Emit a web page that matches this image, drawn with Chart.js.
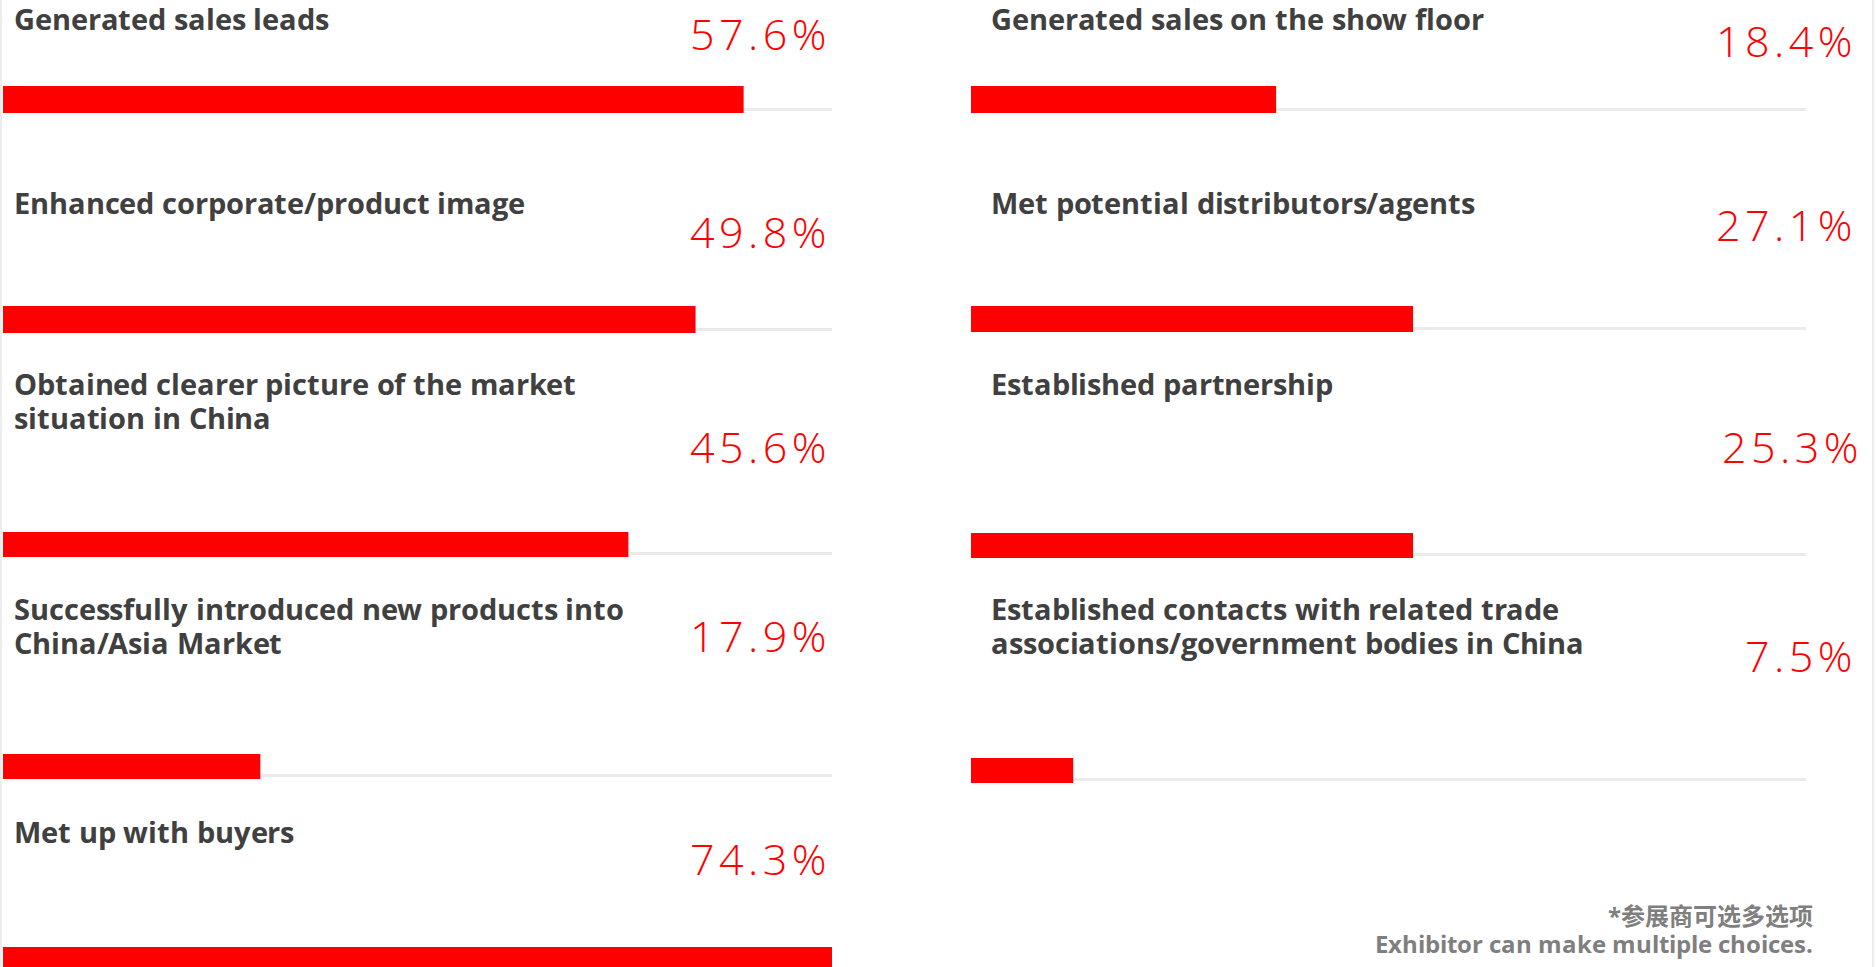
<!DOCTYPE html>
<html>
<head>
<meta charset="utf-8">
<title>Exhibitor results</title>
<script src="https://cdn.jsdelivr.net/npm/chart.js@4.4.1/dist/chart.umd.min.js"></script>
<style>
  /* same glyphs, tighter line metrics so stacked lines keep the source spacing */
  @font-face {
    font-family: "LabelSans";
    src: local("Open Sans Bold"), local("OpenSans-Bold");
    font-weight: 700;
    ascent-override: 88%;
    descent-override: 24%;
    line-gap-override: 0%;
  }
  @font-face {
    font-family: "NoteCJK";
    src: local("Noto Sans CJK SC Bold"), local("NotoSansCJKsc-Bold");
    font-weight: 700;
    ascent-override: 88%;
    descent-override: 24%;
    line-gap-override: 0%;
  }
  html, body { margin: 0; padding: 0; background: #fff; }
  body { width: 1876px; height: 967px; overflow: hidden; position: relative; font-family: "Open Sans", "Noto Sans", sans-serif; }
  .edge { position: absolute; top: 0; bottom: 0; width: 2px; background: #ececec; }
  .label { position: absolute; font-family: "LabelSans", "Open Sans", sans-serif; font-weight: 700; font-size: 29px; letter-spacing: -0.1px; color: #404040; white-space: nowrap; }
  .label div { height: 34px; line-height: 34px; }
  .value { position: absolute; width: 220px; text-align: right; font-weight: 300; font-size: 43px; line-height: 43px; letter-spacing: 4.5px; color: #ff0000; white-space: nowrap; }
  .bar { position: absolute; }
  .note { position: absolute; left: 1313px; top: 904px; width: 500px; text-align: right; font-family: "LabelSans", "NoteCJK", "Open Sans", "Noto Sans CJK SC", sans-serif; font-weight: 700; font-size: 24px; color: #7f7f7f; }
  .note div { height: 28px; line-height: 28px; }
</style>
</head>
<body>
<div class="edge" style="left:0"></div>
<div class="edge" style="left:1872px"></div>
<div id="board"></div>
<div class="note" id="note"></div>
<script>
  const leftCategories = [
    ["Generated sales leads"],
    ["Enhanced corporate/product image"],
    ["Obtained clearer picture of the market", "situation in China"],
    ["Successfully introduced new products into", "China/Asia Market"],
    ["Met up with buyers"]
  ];
  const leftValues = [57.6, 49.8, 45.6, 17.9, 74.3];
  // bar length as drawn in the source, in % of the grey track (the source bars are not to scale)
  const leftBars = [89.3, 83.5, 75.4, 31.0, 100];

  const rightCategories = [
    ["Generated sales on the show floor"],
    ["Met potential distributors/agents"],
    ["Established partnership"],
    ["Established contacts with related trade", "associations/government bodies in China"]
  ];
  const rightValues = [18.4, 27.1, 25.3, 7.5];
  const rightBars = [36.5, 52.9, 52.9, 12.2];

  const footnote = ["*参展商可选多选项", "Exhibitor can make multiple choices."];

  // layout only: where each row's label, value and bar sit on the page
  const leftLayout = {
    labelX: 14, valueRight: 831, trackX: 3, trackW: 829,
    rows: [
      { label: 4, value: 12, bar: 86, h: 27 },
      { label: 188, value: 210, bar: 306, h: 27 },
      { label: 369, value: 425, bar: 532, h: 25 },
      { label: 594, value: 614, bar: 754, h: 25 },
      { label: 817, value: 837, bar: 947, h: 27 }
    ]
  };
  const rightLayout = {
    labelX: 991, valueRight: 1857, trackX: 971, trackW: 835,
    rows: [
      { label: 4, value: 19, bar: 86, h: 27 },
      { label: 188, value: 203, bar: 306, h: 26 },
      { label: 369, value: 425, bar: 533, h: 25, shift: 6 },
      { label: 594, value: 634, bar: 758, h: 25 }
    ]
  };

  const trackLine = {
    id: "trackLine",
    beforeDatasetsDraw(chart) {
      const { ctx, chartArea, scales: { x } } = chart;
      const x0 = x.getPixelForValue(0);
      ctx.save();
      ctx.fillStyle = "#ebebeb";
      ctx.fillRect(x0, chartArea.bottom - 5, x.getPixelForValue(100) - x0, 3);
      ctx.restore();
    }
  };

  const board = document.getElementById("board");

  function lines(arr) {
    return arr.map((t) => `<div>${t}</div>`).join("");
  }

  function addRow(layout, row, cat, value, fill) {
    const lab = document.createElement("div");
    lab.className = "label";
    lab.style.left = layout.labelX + "px";
    lab.style.top = row.label + "px";
    lab.innerHTML = lines(cat);
    board.appendChild(lab);

    const val = document.createElement("div");
    val.className = "value";
    val.style.left = (layout.valueRight + (row.shift || 0) - 220) + "px";
    val.style.top = row.value + "px";
    val.textContent = value.toFixed(1) + "%";
    board.appendChild(val);

    const box = document.createElement("div");
    box.className = "bar";
    box.style.left = layout.trackX + "px";
    box.style.top = row.bar + "px";
    box.style.width = layout.trackW + "px";
    box.style.height = row.h + "px";
    const cv = document.createElement("canvas");
    box.appendChild(cv);
    board.appendChild(box);

    new Chart(cv.getContext("2d"), {
      type: "bar",
      data: {
        labels: [cat.join(" ")],
        datasets: [{
          data: [fill],
          backgroundColor: "#ff0000",
          borderWidth: 0,
          barPercentage: 1,
          categoryPercentage: 1
        }]
      },
      options: {
        indexAxis: "y",
        responsive: true,
        maintainAspectRatio: false,
        animation: false,
        events: [],
        layout: { padding: 0 },
        plugins: { legend: { display: false }, tooltip: { enabled: false } },
        scales: {
          x: { display: false, min: 0, max: 100 },
          y: { display: false }
        }
      },
      plugins: [trackLine]
    });
  }

  leftCategories.forEach((c, i) => addRow(leftLayout, leftLayout.rows[i], c, leftValues[i], leftBars[i]));
  rightCategories.forEach((c, i) => addRow(rightLayout, rightLayout.rows[i], c, rightValues[i], rightBars[i]));

  document.getElementById("note").innerHTML = lines(footnote);
</script>
</body>
</html>
